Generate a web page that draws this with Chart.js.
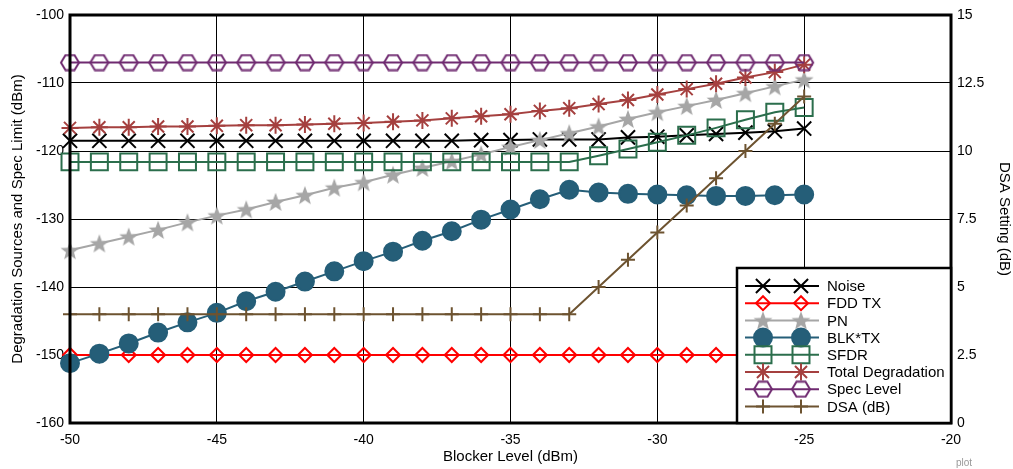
<!DOCTYPE html>
<html>
<head>
<meta charset="utf-8">
<script src="https://cdn.jsdelivr.net/npm/chart.js@4/dist/chart.umd.min.js"></script>
<style>
  html, body { margin: 0; padding: 0; background: #fff; }
  #wrap { width: 1013px; height: 469px; }
</style>
</head>
<body>
<div id="wrap"><canvas id="plot"></canvas></div>
<script>
// blocker level steps (dBm)
var blocker = [-50, -49, -48, -47, -46, -45, -44, -43, -42, -41, -40, -39, -38,
               -37, -36, -35, -34, -33, -32, -31, -30, -29, -28, -27, -26, -25];

var noise = [-118.5, -118.5, -118.5, -118.5, -118.5, -118.5, -118.5, -118.5, -118.5,
             -118.5, -118.5, -118.5, -118.5, -118.5, -118.4, -118.4, -118.3, -118.3,
             -118.3, -118.0, -117.9, -117.7, -117.5, -117.3, -117.1, -116.7];
var fddTx = [-150, -150, -150, -150, -150, -150, -150, -150, -150, -150, -150, -150, -150,
             -150, -150, -150, -150, -150, -150, -150, -150, -150, -150, -150, -150, -150];
var pn = [-134.6, -133.6, -132.6, -131.6, -130.5, -129.5, -128.6, -127.5, -126.5,
          -125.4, -124.6, -123.5, -122.5, -121.5, -120.5, -119.4, -118.4, -117.4,
          -116.4, -115.3, -114.3, -113.4, -112.5, -111.5, -110.5, -109.5];
var blkTx = [-151.2, -149.8, -148.3, -146.7, -145.2, -143.8, -142.1, -140.7, -139.2,
             -137.7, -136.2, -134.8, -133.2, -131.8, -130.1, -128.6, -127.1, -125.7,
             -126.1, -126.3, -126.4, -126.5, -126.6, -126.6, -126.5, -126.4];
var sfdr = [-121.6, -121.6, -121.6, -121.6, -121.6, -121.6, -121.6, -121.6, -121.6,
            -121.6, -121.6, -121.6, -121.6, -121.6, -121.6, -121.6, -121.6, -121.6,
            -120.7, -119.7, -118.7, -117.7, -116.6, -115.4, -114.3, -113.6];
var totalDeg = [-116.6, -116.5, -116.5, -116.4, -116.4, -116.3, -116.2, -116.2, -116.1,
                -116.0, -115.9, -115.7, -115.5, -115.2, -114.9, -114.6, -114.1, -113.7,
                -113.1, -112.5, -111.7, -110.9, -110.1, -109.2, -108.4, -107.3];
var specLevel = [-107, -107, -107, -107, -107, -107, -107, -107, -107, -107, -107, -107, -107,
                 -107, -107, -107, -107, -107, -107, -107, -107, -107, -107, -107, -107, -107];
var dsa = [4, 4, 4, 4, 4, 4, 4, 4, 4, 4, 4, 4, 4, 4, 4, 4, 4, 4, 5, 6, 7, 8, 9, 10, 11, 12];

function pts(ys) {
    return ys.map(function (y, i) { return { x: blocker[i], y: y }; });
}

// filled 5 point star for PN
var starImg = document.createElement('canvas');
starImg.width = 20; starImg.height = 20;
(function () {
    var c = starImg.getContext('2d');
    c.beginPath();
    for (var k = 0; k < 10; k++) {
        var r = k % 2 ? 4.2 : 10;
        var a = -Math.PI / 2 + k * Math.PI / 5;
        c.lineTo(10 + r * Math.cos(a), 10.8 + r * Math.sin(a));
    }
    c.closePath();
    c.fillStyle = '#a6a6a6';
    c.fill();
})();

// open hexagon for spec level
var hexImg = document.createElement('canvas');
hexImg.width = 22; hexImg.height = 18;
(function () {
    var c = hexImg.getContext('2d');
    c.beginPath();
    c.moveTo(2, 9); c.lineTo(6.5, 1.5); c.lineTo(15.5, 1.5);
    c.lineTo(20, 9); c.lineTo(15.5, 16.5); c.lineTo(6.5, 16.5);
    c.closePath();
    c.strokeStyle = '#6f2a70';
    c.lineWidth = 2;
    c.stroke();
})();

var font = 'Liberation Sans, Arial, sans-serif';

function ds(label, ys, color, style, radius, fill, axis) {
    return {
        label: label,
        data: pts(ys),
        borderColor: color,
        backgroundColor: fill || 'rgba(0,0,0,0)',
        borderWidth: 2,
        pointStyle: style,
        pointRadius: radius,
        pointBorderWidth: 2,
        pointBorderColor: color,
        pointBackgroundColor: fill || 'rgba(0,0,0,0)',
        yAxisID: axis || 'y',
        tension: 0,
        clip: false
    };
}

var sets = [
    ds('Noise', noise, '#000000', 'crossRot', 10),
    ds('FDD TX', fddTx, '#ff0000', 'rectRot', 7),
    ds('PN', pn, '#a6a6a6', starImg, 10),
    ds('BLK*TX', blkTx, '#255e78', 'circle', 9, '#255e78'),
    ds('SFDR', sfdr, '#2b6e4c', 'rect', 12),
    ds('Total Degradation', totalDeg, '#a5403f', 'star', 8.5),
    ds('Spec Level', specLevel, '#6f2a70', hexImg, 10),
    ds('DSA (dB)', dsa, '#6d5330', 'cross', 7, null, 'y2')
];
sets.forEach(function (d, i) { d.order = sets.length - i; });

var frameAndLegend = {
    id: 'frameAndLegend',
    afterDatasetsDraw: function (chart) {
        var ctx = chart.ctx, a = chart.chartArea;
        ctx.save();
        // plot frame
        ctx.strokeStyle = '#000';
        ctx.lineWidth = 3;
        ctx.strokeRect(a.left, a.top, a.right - a.left, a.bottom - a.top);

        // legend box in lower right corner
        var lx = a.right - 214, ly = a.bottom - 155;
        ctx.fillStyle = '#fff';
        ctx.fillRect(lx, ly, a.right - lx, a.bottom - ly);
        ctx.lineWidth = 2.5;
        ctx.strokeRect(lx, ly, a.right - lx, a.bottom - ly);

        ctx.font = '15px ' + font;
        ctx.textBaseline = 'middle';
        chart.data.datasets.forEach(function (d, i) {
            var y = ly + 18 + i * 17.2;
            ctx.strokeStyle = d.borderColor;
            ctx.lineWidth = 2;
            ctx.beginPath();
            ctx.moveTo(lx + 8, y);
            ctx.lineTo(lx + 82, y);
            ctx.stroke();
            [lx + 26, lx + 64].forEach(function (px) {
                // drawPoint uses the current fill/stroke state
                ctx.fillStyle = d.pointBackgroundColor;
                ctx.strokeStyle = d.borderColor;
                ctx.lineWidth = 2;
                Chart.helpers.drawPoint(ctx, {
                    pointStyle: d.pointStyle,
                    radius: d.pointRadius,
                    borderWidth: 2,
                    rotation: 0
                }, px, y);
            });
            ctx.fillStyle = '#000';
            ctx.fillText(d.label, lx + 90, y + 1);
        });

        ctx.fillStyle = '#999';
        ctx.font = '10px ' + font;
        ctx.fillText('plot', 956, 463);
        ctx.restore();
    }
};

new Chart(document.getElementById('plot'), {
    type: 'line',
    data: { datasets: sets },
    plugins: [frameAndLegend],
    options: {
        responsive: true,
        maintainAspectRatio: false,
        animation: false,
        layout: { padding: { top: 15, right: 0, left: 0, bottom: 0 } },
        plugins: { legend: { display: false }, tooltip: { enabled: false } },
        scales: {
            x: {
                type: 'linear',
                min: -50, max: -20,
                ticks: { stepSize: 5, color: '#000', font: { family: font, size: 14 }, padding: 9 },
                grid: { color: '#000', lineWidth: 1, drawTicks: false },
                border: { display: false },
                title: { display: true, text: 'Blocker Level (dBm)', color: '#000',
                         font: { family: font, size: 15 }, padding: { top: 0, bottom: 3 } },
                afterFit: function (s) { s.height = 46; }
            },
            y: {
                position: 'left',
                min: -160, max: -100,
                ticks: { stepSize: 10, color: '#000', font: { family: font, size: 14 }, padding: 6 },
                grid: { color: '#000', lineWidth: 1, drawTicks: false },
                border: { display: false },
                title: { display: true, text: 'Degradation Sources and Spec Limit (dBm)', color: '#000',
                         font: { family: font, size: 15 }, padding: { top: 9, bottom: 4 } },
                afterFit: function (s) { s.width = 70; }
            },
            y2: {
                position: 'right',
                min: 0, max: 15,
                ticks: { stepSize: 2.5, color: '#000', font: { family: font, size: 14 }, padding: 6 },
                grid: { display: false, drawTicks: false },
                border: { display: false },
                title: { display: true, text: 'DSA Setting (dB)', color: '#000',
                         font: { family: font, size: 15 }, padding: { top: 0, bottom: 4 } },
                afterFit: function (s) { s.width = 62; }
            }
        }
    }
});
</script>
</body>
</html>
